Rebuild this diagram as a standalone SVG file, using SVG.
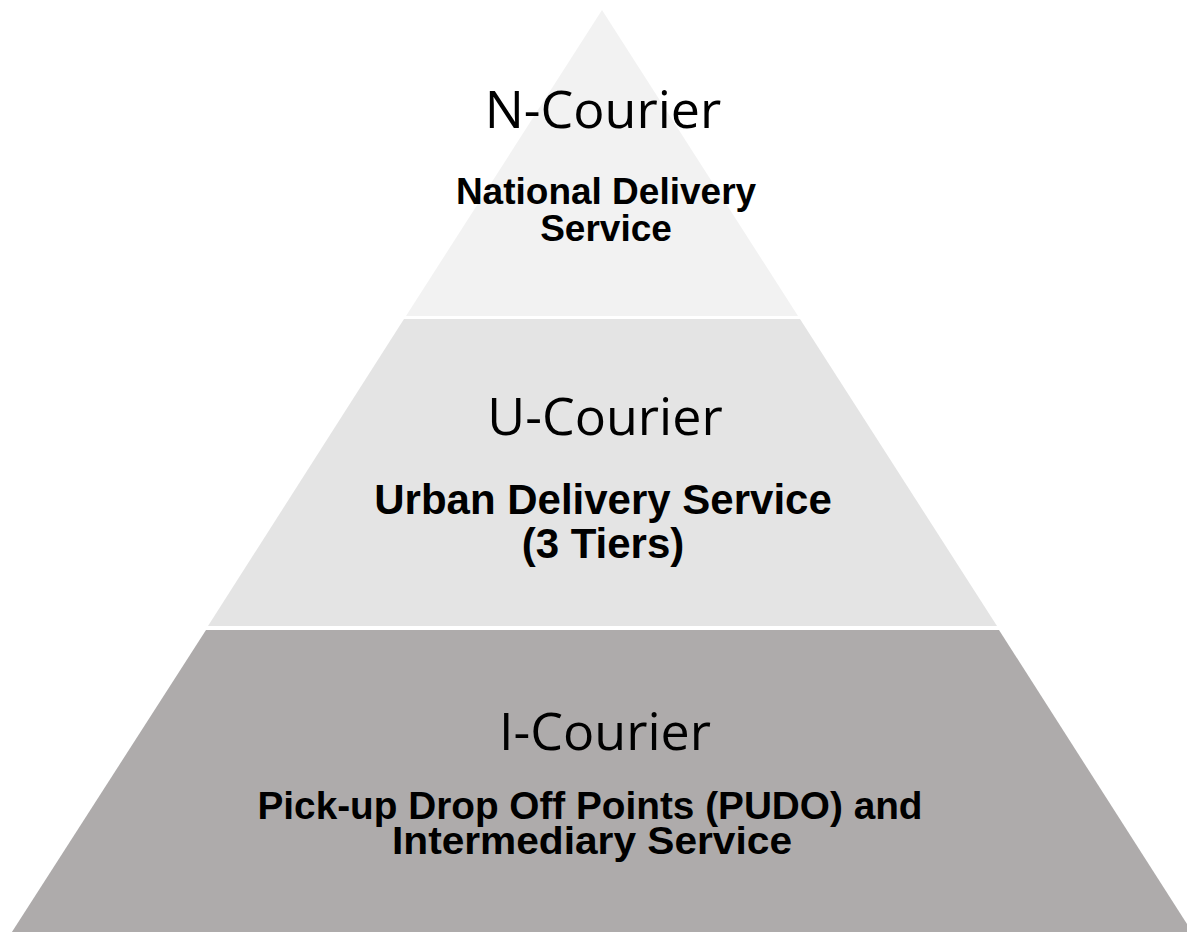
<svg xmlns="http://www.w3.org/2000/svg" width="1187" height="932" viewBox="0 0 1187 932">
<style>
.title{font-family:"Open Sans","Liberation Sans",sans-serif;font-size:52px;fill:#000;text-anchor:middle}
.sub{font-family:"Liberation Sans",Arial,sans-serif;font-weight:bold;fill:#000;text-anchor:middle}
</style>
<rect width="1187" height="932" fill="#ffffff"/>
<g id="tier-n">
<polygon points="602,10 798,316 406,316" fill="#f2f2f2"/>
<text class="title" x="603" y="128">N-Courier</text>
<text class="sub" font-size="37" x="606" y="204">National Delivery</text>
<text class="sub" font-size="37" x="606" y="241">Service</text>
</g>
<g id="tier-u">
<polygon points="404,319 800,319 997,626 208,626" fill="#e4e4e4"/>
<text class="title" x="605" y="435">U-Courier</text>
<text class="sub" font-size="42" x="603" y="514">Urban Delivery Service</text>
<text class="sub" font-size="42" x="603" y="558">(3 Tiers)</text>
</g>
<g id="tier-i">
<polygon points="206,630 999,630 1194,935 10,935" fill="#aeabab"/>
<text class="title" x="605" y="750">I-Courier</text>
<text class="sub" font-size="38" x="590" y="819" textLength="665" lengthAdjust="spacingAndGlyphs">Pick-up Drop Off Points (PUDO) and</text>
<text class="sub" font-size="38" x="592" y="854" textLength="400" lengthAdjust="spacingAndGlyphs">Intermediary Service</text>
</g>
<g id="connectors"/>
</svg>
